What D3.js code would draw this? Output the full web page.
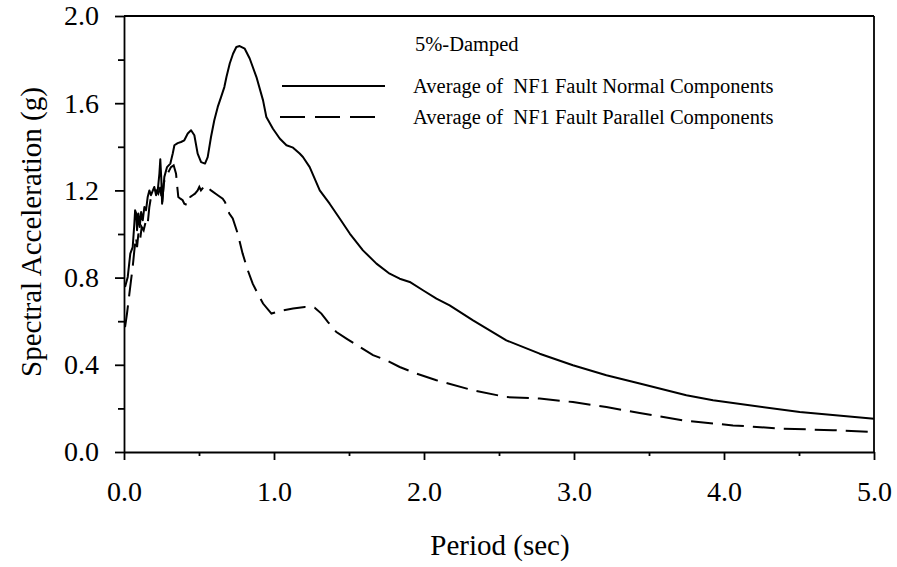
<!DOCTYPE html>
<html>
<head>
<meta charset="utf-8">
<script src="https://cdn.jsdelivr.net/npm/d3@7"></script>
<style>
  body { margin: 0; background: #fff; }
  svg { font-family: "Liberation Serif", "Times New Roman", serif; }
  text { white-space: pre; }
</style>
</head>
<body>
<script>
// Average of NF1 fault normal components (solid)
var normalT = [0.007, 0.025, 0.042, 0.058, 0.069, 0.074, 0.082, 0.087, 0.096, 0.105, 0.114, 0.125, 0.136, 0.147, 0.158, 0.169, 0.180, 0.202, 0.214, 0.225, 0.236, 0.242, 0.249, 0.254, 0.269, 0.287, 0.309, 0.325, 0.336, 0.358, 0.380, 0.402, 0.425, 0.447, 0.469, 0.491, 0.514, 0.540, 0.558, 0.580, 0.602, 0.625, 0.647, 0.669, 0.683, 0.705, 0.727, 0.749, 0.771, 0.805, 0.838, 0.883, 0.927, 0.949, 0.993, 1.038, 1.083, 1.127, 1.171, 1.193, 1.238, 1.305, 1.371, 1.438, 1.505, 1.593, 1.683, 1.771, 1.838, 1.905, 1.993, 2.083, 2.171, 2.327, 2.549, 2.771, 2.993, 3.216, 3.438, 3.749, 3.927, 4.505, 5.0];
var normalSA = [0.757, 0.803, 0.910, 0.940, 1.048, 1.109, 1.094, 1.017, 1.094, 1.032, 1.101, 1.063, 1.124, 1.109, 1.170, 1.200, 1.178, 1.216, 1.178, 1.200, 1.277, 1.343, 1.246, 1.139, 1.262, 1.307, 1.323, 1.369, 1.407, 1.417, 1.422, 1.430, 1.461, 1.476, 1.453, 1.369, 1.330, 1.323, 1.353, 1.445, 1.522, 1.583, 1.628, 1.674, 1.720, 1.782, 1.827, 1.858, 1.862, 1.850, 1.805, 1.720, 1.613, 1.537, 1.483, 1.438, 1.407, 1.396, 1.369, 1.353, 1.307, 1.200, 1.139, 1.071, 1.002, 0.925, 0.864, 0.818, 0.795, 0.780, 0.742, 0.704, 0.673, 0.604, 0.512, 0.451, 0.398, 0.352, 0.314, 0.260, 0.237, 0.183, 0.153];

// Average of NF1 fault parallel components (dashed)
var parallelT = [0.007, 0.020, 0.036, 0.047, 0.058, 0.069, 0.080, 0.087, 0.096, 0.107, 0.118, 0.131, 0.147, 0.158, 0.169, 0.180, 0.198, 0.214, 0.229, 0.242, 0.254, 0.265, 0.276, 0.291, 0.302, 0.313, 0.331, 0.347, 0.353, 0.362, 0.376, 0.391, 0.402, 0.425, 0.442, 0.458, 0.473, 0.491, 0.502, 0.513, 0.540, 0.580, 0.625, 0.658, 0.673, 0.702, 0.725, 0.758, 0.791, 0.825, 0.858, 0.891, 0.927, 0.983, 1.060, 1.127, 1.205, 1.271, 1.316, 1.360, 1.416, 1.483, 1.571, 1.660, 1.749, 1.838, 1.949, 2.083, 2.327, 2.549, 2.771, 2.993, 3.216, 3.438, 3.727, 4.060, 4.393, 4.727, 5.0];
var parallelSA = [0.573, 0.635, 0.727, 0.788, 0.849, 0.925, 0.986, 0.940, 1.002, 0.971, 1.032, 1.017, 1.063, 1.048, 1.124, 1.170, 1.185, 1.200, 1.185, 1.216, 1.139, 1.231, 1.262, 1.277, 1.292, 1.307, 1.315, 1.277, 1.231, 1.170, 1.162, 1.155, 1.139, 1.132, 1.170, 1.178, 1.185, 1.200, 1.216, 1.200, 1.223, 1.200, 1.178, 1.162, 1.147, 1.094, 1.071, 1.002, 0.910, 0.834, 0.772, 0.727, 0.681, 0.635, 0.650, 0.658, 0.665, 0.662, 0.635, 0.596, 0.550, 0.520, 0.482, 0.444, 0.421, 0.390, 0.360, 0.329, 0.283, 0.252, 0.245, 0.229, 0.206, 0.179, 0.145, 0.122, 0.107, 0.100, 0.092];

var xMajor = [0, 1, 2, 3, 4, 5];
var xMinor = [0.5, 1.5, 2.5, 3.5, 4.5];
var yMajor = [0, 0.4, 0.8, 1.2, 1.6, 2.0];
var yMinor = [0.2, 0.6, 1.0, 1.4, 1.8];

var legendTitle = "5%-Damped";
var seriesNames = ["Average of  NF1 Fault Normal Components", "Average of  NF1 Fault Parallel Components"];

var W = 897, H = 567;
var margin = { top: 16, right: 23, bottom: 115, left: 124 },
    width = W - margin.left - margin.right,
    height = H - margin.top - margin.bottom;

var svg = d3.select("body").append("svg")
    .attr("width", W)
    .attr("height", H);

var g = svg.append("g")
    .attr("transform", "translate(" + margin.left + "," + margin.top + ")");

var x = d3.scaleLinear().domain([0, 5]).range([0, width]);
var y = d3.scaleLinear().domain([0, 2]).range([height, 0]);

// frame: top and right edges
g.append("line").attr("x1", 0).attr("x2", width).attr("y1", 0).attr("y2", 0)
    .attr("stroke", "#000").attr("stroke-width", 1.8);
g.append("line").attr("x1", width).attr("x2", width).attr("y1", 0).attr("y2", height)
    .attr("stroke", "#000").attr("stroke-width", 1.8);

// y axis
var yAxis = g.append("g")
    .call(d3.axisLeft(y).tickValues(yMajor).tickSize(9).tickSizeOuter(0).tickPadding(16)
        .tickFormat(d3.format(".1f")));
g.append("g")
    .call(d3.axisLeft(y).tickValues(yMinor).tickSize(6).tickSizeOuter(0).tickFormat(""))
    .select(".domain").remove();

// x axis
var xAxis = g.append("g")
    .attr("transform", "translate(0," + height + ")")
    .call(d3.axisBottom(x).tickValues(xMajor).tickSize(8).tickSizeOuter(0)
        .tickFormat(d3.format(".1f")));
xAxis.selectAll("text").attr("y", 49).attr("dy", 0);
g.append("g")
    .attr("transform", "translate(0," + height + ")")
    .call(d3.axisBottom(x).tickValues(xMinor).tickSize(4).tickSizeOuter(0).tickFormat(""))
    .select(".domain").remove();

g.selectAll(".domain, .tick line").attr("stroke", "#000").attr("stroke-width", 1.8);
g.selectAll(".tick text")
    .attr("fill", "#000")
    .style("font-family", "'Liberation Serif', 'Times New Roman', serif")
    .style("font-size", "28px");

// curves
var line = d3.line()
    .x(function (d) { return x(d[0]); })
    .y(function (d) { return y(d[1]); });

var normal = normalT.map(function (t, i) { return [t, normalSA[i]]; });
var parallel = parallelT.map(function (t, i) { return [t, parallelSA[i]]; });

g.append("path").datum(normal)
    .attr("d", line)
    .attr("fill", "none").attr("stroke", "#000").attr("stroke-width", 2)
    .attr("stroke-linejoin", "round");

g.append("path").datum(parallel)
    .attr("d", line)
    .attr("fill", "none").attr("stroke", "#000").attr("stroke-width", 2)
    .attr("stroke-dasharray", "22,9");

// legend
svg.append("text").attr("x", 415).attr("y", 51)
    .style("font-size", "20.5px").text(legendTitle);

var legend = svg.append("g");
var rows = [
    { name: seriesNames[0], y: 86, dash: null, x1: 282, x2: 385 },
    { name: seriesNames[1], y: 117, dash: "25,10", x1: 280, x2: 375 }
];
rows.forEach(function (r) {
    legend.append("line")
        .attr("x1", r.x1).attr("x2", r.x2).attr("y1", r.y).attr("y2", r.y)
        .attr("stroke", "#000").attr("stroke-width", 2)
        .attr("stroke-dasharray", r.dash);
    legend.append("text")
        .attr("x", 413).attr("y", r.y + 7)
        .style("font-size", "20.5px")
        .text(r.name);
});

// axis titles
svg.append("text")
    .attr("x", margin.left + width / 2 + 1).attr("y", 555)
    .attr("text-anchor", "middle")
    .style("font-size", "29px")
    .text("Period (sec)");

svg.append("text")
    .attr("transform", "translate(41," + (margin.top + 216) + ") rotate(-90)")
    .attr("text-anchor", "middle")
    .style("font-size", "29px")
    .text("Spectral Acceleration (g)");
</script>
</body>
</html>
